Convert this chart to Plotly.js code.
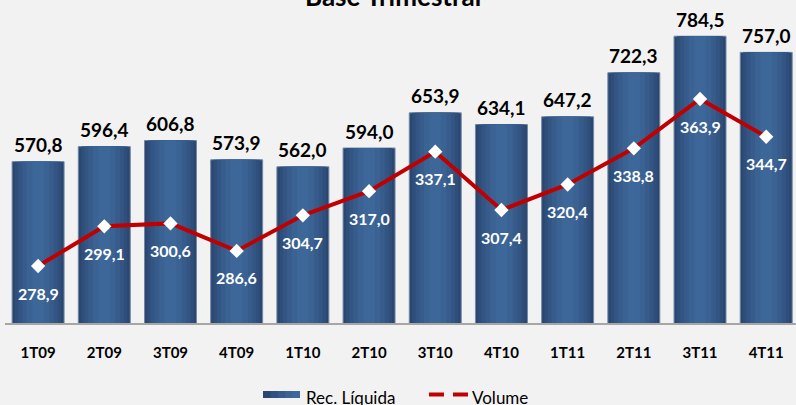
<!DOCTYPE html>
<html>
<head>
<meta charset="utf-8">
<script src="https://cdn.plot.ly/plotly-3.0.1.min.js"></script>
<style>html,body{margin:0;padding:0;background:#f2f2f2;}#chart{width:796px;height:405px;}</style>
</head>
<body>
<div id="chart"></div>
<script>
const categories = ['1T09','2T09','3T09','4T09','1T10','2T10','3T10','4T10','1T11','2T11','3T11','4T11'];
const recLiquida = [570.8,596.4,606.8,573.9,562.0,594.0,653.9,634.1,647.2,722.3,784.5,757.0];
const volume = [278.9,299.1,300.6,286.6,304.7,317.0,337.1,307.4,320.4,338.8,363.9,344.7];
const seriesNames = ['Rec. Líquida', 'Volume'];
const chartTitle = 'Base Trimestral';

const fmt = v => v.toFixed(1).replace('.', ',');
const FONT = 'Lato, "Open Sans", sans-serif';

// gradient layers for bars (outer dark -> inner light)
const layers = [
  {w:0.785, c:'#2b476f'},
  {w:0.70, c:'#2f4e7a'},
  {w:0.60, c:'#335583'},
  {w:0.48, c:'#375c8c'},
  {w:0.34, c:'#3a6293'},
  {w:0.18, c:'#3d6798'}
];
const traces = layers.map((L, i) => ({
  type:'bar', x:categories, y:recLiquida, width:L.w,
  name:seriesNames[0], showlegend:false,
  marker:{color:L.c, line:{color: i===0 ? '#7088a8' : L.c, width: i===0 ? 1 : 0}},
  hoverinfo:'skip', yaxis:'y', xaxis:'x'
}));
traces.push({
  type:'scatter', mode:'lines+markers', x:categories, y:volume, yaxis:'y2', name:seriesNames[1], showlegend:false,
  line:{color:'#c00000', width:4},
  marker:{symbol:'diamond', size:11, color:'#ffffff', line:{width:0}},
  hoverinfo:'skip'
});

const annotations = [];
categories.forEach((c, i) => {
  annotations.push({x:c, y:recLiquida[i], xref:'x', yref:'y', text:fmt(recLiquida[i]), showarrow:false,
    yanchor:'middle', yshift:17, font:{family:FONT, size:19, color:'#000', weight:'bold'}});
  annotations.push({x:c, y:volume[i], xref:'x', yref:'y2', text:fmt(volume[i]), showarrow:false,
    yanchor:'middle', yshift:-27, font:{family:FONT, size:16, color:'#ffffff', weight:'bold'}});
});

// manual legend and title (paper coords derived from pixel layout of the plot area)
const L0 = 5, PW = 791, T0 = 10, PH = 313;
const px = p => (p - L0) / PW;
const py = p => (T0 + PH - p) / PH;
const shapes = [];
const swatchCols = ['#2b476f','#315280','#365a8a','#3b6494','#3e689a'];
for (let k = 0; k < swatchCols.length; k++) {
  shapes.push({type:'rect', xref:'paper', yref:'paper', x0:px(263 + k*7.4), x1:px(300), y0:py(398), y1:py(391),
    line:{width:0}, fillcolor:swatchCols[k], layer:'above'});
}
shapes.push({type:'line', xref:'paper', yref:'paper', x0:px(429), x1:px(444), y0:py(394.5), y1:py(394.5), line:{color:'#c00000', width:4}});
shapes.push({type:'line', xref:'paper', yref:'paper', x0:px(453), x1:px(468), y0:py(394.5), y1:py(394.5), line:{color:'#c00000', width:4}});
annotations.push({xref:'paper', yref:'paper', x:px(304), y:py(397), xanchor:'left', yanchor:'middle', showarrow:false,
  text:seriesNames[0], font:{family:FONT, size:17, color:'#000'}});
annotations.push({xref:'paper', yref:'paper', x:px(470), y:py(397), xanchor:'left', yanchor:'middle', showarrow:false,
  text:seriesNames[1], font:{family:FONT, size:17, color:'#000'}});
annotations.push({xref:'paper', yref:'paper', x:px(393), y:py(-4), xanchor:'center', yanchor:'middle', showarrow:false,
  text:chartTitle, font:{family:FONT, size:26, color:'#000', weight:'bold'}});

const layout = {
  width:796, height:405,
  paper_bgcolor:'#f2f2f2', plot_bgcolor:'#f2f2f2',
  margin:{l:L0, r:0, t:T0, b:82},
  barmode:'overlay',
  xaxis:{type:'category', range:[-0.5, 11.45], showgrid:false, zeroline:false,
    showline:true, linecolor:'#a6a6a6', linewidth:1.5, ticks:'', ticklabelstandoff:15,
    tickfont:{family:FONT, size:15, color:'#000', weight:'bold'}},
  yaxis:{range:[295.8, 829.2], visible:false, showgrid:false, zeroline:false},
  yaxis2:{range:[249.9, 409.2], overlaying:'y', side:'right', visible:false, showgrid:false, zeroline:false},
  showlegend:false,
  shapes:shapes,
  annotations:annotations
};

Plotly.newPlot('chart', traces, layout, {displayModeBar:false, staticPlot:true});
</script>
</body>
</html>
